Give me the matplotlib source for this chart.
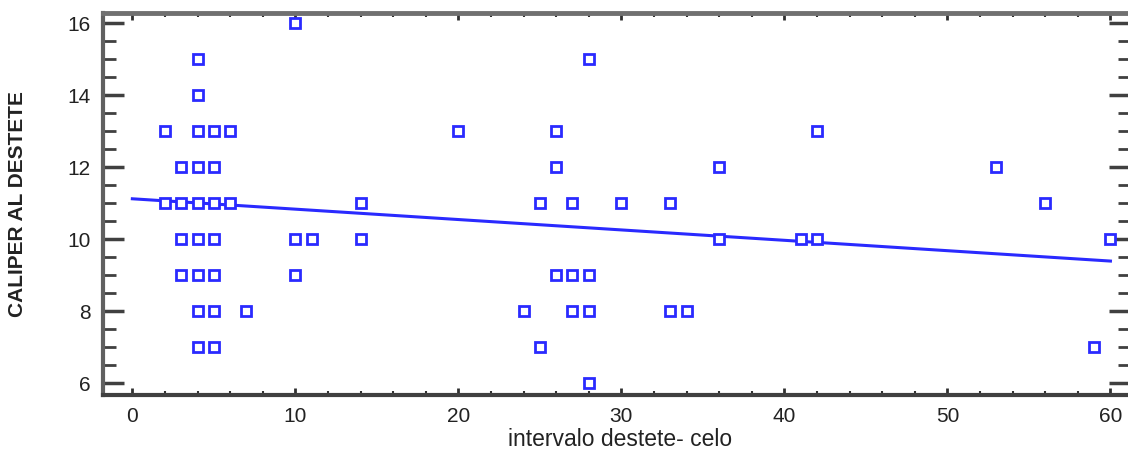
import numpy as np
import matplotlib
matplotlib.use("Agg")
import matplotlib.pyplot as plt
from matplotlib.ticker import MultipleLocator

# Data
interval = [2, 2,
            3, 3, 3, 3,
            4, 4, 4, 4, 4, 4, 4, 4, 4,
            5, 5, 5, 5, 5, 5, 5,
            6, 6,
            7,
            10, 10, 10,
            11,
            14, 14,
            20,
            24,
            25, 25,
            26, 26, 26,
            27, 27, 27,
            28, 28, 28, 28,
            30,
            33, 33,
            34,
            36, 36,
            41,
            42, 42,
            53,
            56,
            59,
            60]
caliper = [13, 11,
           12, 11, 10, 9,
           15, 14, 13, 12, 11, 10, 9, 8, 7,
           13, 12, 11, 10, 9, 8, 7,
           13, 11,
           8,
           16, 10, 9,
           10,
           11, 10,
           13,
           8,
           11, 7,
           13, 12, 9,
           11, 9, 8,
           15, 9, 8, 6,
           11,
           11, 8,
           8,
           12, 10,
           10,
           13, 10,
           12,
           11,
           7,
           10]

# fitted regression line as drawn in the reference (end points)
fit_x = [0, 60]
fit_y = [11.12, 9.39]

x_ticks = [0, 10, 20, 30, 40, 50, 60]
y_ticks = [6, 8, 10, 12, 14, 16]
x_label = "intervalo destete- celo"
y_label = "CALIPER AL DESTETE"

plt.rcParams['font.family'] = ['Liberation Sans', 'DejaVu Sans']

fig = plt.figure(figsize=(11.28, 4.51), dpi=100)
ax = fig.add_axes([103/1128, 1 - 395/451, 1027/1128, (395 - 13)/451])

blue = '#2a2aff'
ax.plot(fit_x, fit_y, color=blue, lw=2.2, zorder=2)
ax.plot(interval, caliper, linestyle='none', marker='s', markersize=7.5,
        markerfacecolor='white', markeredgecolor=blue, markeredgewidth=2.0, zorder=3)

ax.set_xlim(-1.8, 61.2)
ax.set_ylim(5.67, 16.28)
ax.set_xticks(x_ticks)
ax.set_yticks(y_ticks)
ax.xaxis.set_minor_locator(MultipleLocator(2))
ax.yaxis.set_minor_locator(MultipleLocator(0.5))

ax.tick_params(axis='x', which='major', direction='in', length=5, width=2,
               top=True, bottom=True, color='#303030',
               labelsize=15, labelcolor='#222222', pad=9)
ax.tick_params(axis='x', which='minor', direction='in', length=3, width=1.5,
               top=True, bottom=True, color='#303030')
ax.tick_params(axis='y', which='major', direction='in', length=15, width=2.5,
               left=True, right=True, color='#404040',
               labelsize=15, labelcolor='#222222', pad=9)
ax.tick_params(axis='y', which='minor', direction='in', length=9, width=2,
               left=True, right=True, color='#404040')

ax.spines['top'].set_color('#707070')
ax.spines['top'].set_linewidth(3.5)
ax.spines['left'].set_color('#606060')
ax.spines['left'].set_linewidth(3)
ax.spines['bottom'].set_color('#404040')
ax.spines['bottom'].set_linewidth(3)
ax.spines['right'].set_color('#606060')
ax.spines['right'].set_linewidth(2)

fig.text(620/1128, 1 - 440/451, x_label, fontsize=16.5, color='#222222',
         ha='center', va='center')
fig.text(18/1128, 1 - 204/451, y_label, fontsize=15, color='#222222',
         ha='center', va='center', rotation=90, fontweight='bold')

fig.savefig("out.png", dpi=100)
